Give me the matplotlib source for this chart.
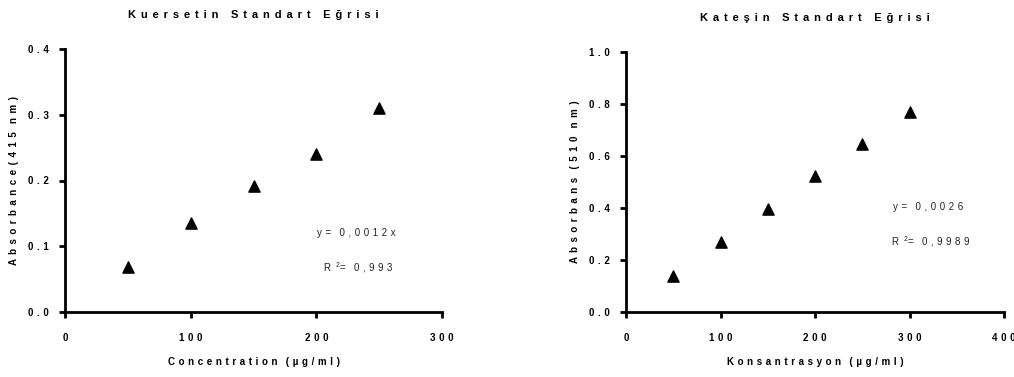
import matplotlib
matplotlib.use("Agg")
import matplotlib.pyplot as plt
from matplotlib.ticker import FuncFormatter

plt.rcParams['font.family'] = ['Liberation Sans', 'DejaVu Sans']
plt.rcParams['mathtext.fontset'] = 'custom'
plt.rcParams['mathtext.rm'] = 'Liberation Sans'

# Data
q_conc = [50, 100, 150, 200, 250]
q_abs = [0.069, 0.135, 0.192, 0.240, 0.310]
k_conc = [50, 100, 150, 200, 250, 300]
k_abs = [0.138, 0.270, 0.398, 0.522, 0.645, 0.770]

q_title = "Kuersetin Standart Eğrisi"
k_title = "Kateşin Standart Eğrisi"
q_xlabel = "Concentration (µg/ml)"
k_xlabel = "Konsantrasyon (µg/ml)"
q_ylabel = "Absorbance(415 nm)"
k_ylabel = "Absorbans (510 nm)"
q_slope = "y= 0,0012x"
k_slope = "y= 0,0026"
q_r2 = "0,993"
k_r2 = "0,9989"


def sp(s, joiner=" ", wordgap="   "):
    words = s.split(" ")
    return wordgap.join(joiner.join(w) for w in words)


HS = " \u200a"
HS2 = " \u200a\u200a"


def fmt_y(v, pos):
    return sp(f"{v:.1f}", HS)


def fmt_x(v, pos):
    return sp(f"{int(round(v))}", HS)


fig = plt.figure(figsize=(10.14, 3.77), dpi=100)
ax1 = fig.add_axes([65/1014, 1-312/377, (442-65)/1014, (312-49)/377])
ax2 = fig.add_axes([626/1014, 1-312/377, (1004-626)/1014, (312-52)/377])

configs = [
    (ax1, q_conc, q_abs, q_title, q_xlabel, q_ylabel, q_slope, q_r2, (0, 300), (0, 0.4),
     [0, 100, 200, 300], [0, 0.1, 0.2, 0.3, 0.4], [(232, 0.120), (233, 0.068)]),
    (ax2, k_conc, k_abs, k_title, k_xlabel, k_ylabel, k_slope, k_r2, (0, 400), (0, 1.0),
     [0, 100, 200, 300, 400], [0, 0.2, 0.4, 0.6, 0.8, 1.0], [(320, 0.403), (322, 0.269)]),
]

for ax, xs, ys, title, xl, yl, slope, r2, xlim, ylim, xt, yt, eqpos in configs:
    ax.scatter(xs, ys, marker='^', s=65, color='black', zorder=3, clip_on=False)
    ax.set_xlim(*xlim)
    ax.set_ylim(*ylim)
    ax.set_xticks(xt)
    ax.set_yticks(yt)
    ax.xaxis.set_major_formatter(FuncFormatter(fmt_x))
    ax.yaxis.set_major_formatter(FuncFormatter(fmt_y))
    for s in ['top', 'right']:
        ax.spines[s].set_visible(False)
    for s in ['left', 'bottom']:
        ax.spines[s].set_linewidth(2.0)
    ax.tick_params(axis='both', direction='out', width=2.0, length=4,
                   labelsize=7)
    ax.tick_params(axis='x', pad=11)
    ax.tick_params(axis='y', pad=7.5)
    for lab in ax.get_xticklabels() + ax.get_yticklabels():
        lab.set_fontweight('bold')
    ax.set_title(sp(title, HS2, "    "), fontsize=8, fontweight='bold', pad=22)
    ax.set_xlabel(sp(xl, HS, "   "), fontsize=7, fontweight='bold', labelpad=10)
    ax.set_ylabel(sp(yl, HS2, "   "), fontsize=7, fontweight='bold', labelpad=6.5)
    (sx, sy), (rx, ry) = eqpos
    ax.text(sx, sy, sp(slope, HS, "   "), fontsize=7, color='#222222',
            ha='center', va='center')
    r2txt = "R  $^{\\mathregular{2}}$" + "=   " + sp(r2, HS)
    ax.text(rx, ry, r2txt, fontsize=7, color='#222222', ha='center', va='center')

fig.savefig("out.png", dpi=100)
